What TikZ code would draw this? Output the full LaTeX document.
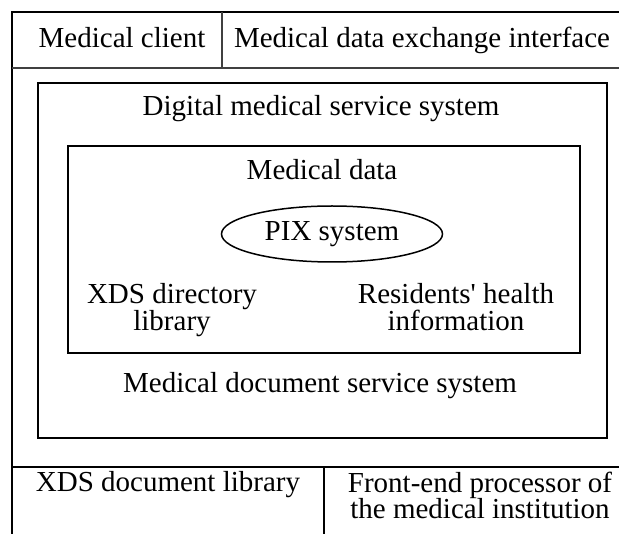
\documentclass[tikz,border=0pt]{standalone}
\usepackage{fontspec}
\setmainfont{Liberation Serif}
\usetikzlibrary{shapes.geometric}

\begin{document}
\begin{tikzpicture}[x=1pt, y=-1pt, every node/.style={font=\fontsize{29}{27}\selectfont, inner sep=0pt, align=center}]
    \useasboundingbox (0,0) rectangle (619,534);
    \clip (0,0) rectangle (619,534);
        % outer frame with top and bottom rows
        \draw[line width=2.2pt] (12,12) rectangle (640,560);
        \draw[line width=1.4pt, black!75] (12,68) -- (640,68);
        \draw[line width=1.4pt, black!75] (222,12) -- (222,68);
        \draw[line width=2.4pt] (12,467) -- (640,467);
        \draw[line width=2.4pt] (324,467) -- (324,560);
        \node[anchor=base] (client) at (122,48) {Medical client};
        \node[anchor=base] (exchange) at (422,48) {Medical data exchange interface};
        \node[draw, line width=2.8pt, minimum width=569pt, minimum height=355pt] (digital) at (322.5,260.5) {};
        \node[anchor=base] (digitaltitle) at (321,116) {Digital medical service system};
        \node[draw, line width=1.8pt, minimum width=512pt, minimum height=207pt] (data) at (324,249.5) {};
        \node[anchor=base] (datatitle) at (322,180) {Medical data};
        \node[ellipse, draw, line width=1.5pt, minimum width=221pt, minimum height=56pt] (pix) at (332,234) {PIX system};
        % base anchor of a two-line node sits on its last line
        \node[anchor=base] (directory) at (172,331) {XDS directory\\library};
        \node[anchor=base] (health) at (456,331) {Residents\textquotesingle\ health\\information};
        \node[anchor=base] (document) at (320,393) {Medical document service system};
        \node[anchor=base] (library) at (168,492) {XDS document library};
        \node[anchor=base] (processor) at (480,519) {Front-end processor of\\the medical institution};
    \end{tikzpicture}
\end{document}
